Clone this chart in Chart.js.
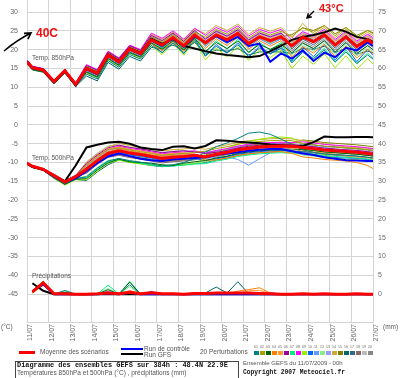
<!DOCTYPE html>
<html>
<head>
<meta charset="utf-8">
<script src="https://cdn.jsdelivr.net/npm/chart.js@4.4.0/dist/chart.umd.min.js"></script>
<style>
  body { margin: 0; background: #fff; }
  #wrap { position: relative; width: 400px; height: 378px; overflow: hidden; background: #fff; font-family: "Liberation Sans", Arial, sans-serif; }
  #chart { position: absolute; left: 0; top: -13px; }
  .t { position: absolute; white-space: nowrap; color: #555; font-size: 6.5px; line-height: 8px; }
  .mono { font-family: "Liberation Mono", "DejaVu Sans Mono", monospace; font-weight: bold; color: #111; }
  .hand { position: absolute; white-space: nowrap; color: #f01010; font-weight: bold; font-family: "Liberation Sans", Arial, sans-serif; }
  .sw { position: absolute; top: 351px; width: 5px; height: 4px; }
  .num { position: absolute; top: 345px; font-size: 3.5px; line-height: 4px; color: #666; }
</style>
</head>
<body>
<div id="wrap">
  <canvas id="chart" width="400" height="361"></canvas>

  <div class="t" style="left:32px; top:54px;">Temp. 850hPa</div>
  <div class="t" style="left:32px; top:154px;">Temp. 500hPa</div>
  <div class="t" style="left:32px; top:272px;">Précipitations</div>
  <div class="t" style="left:1px; top:323px;">(°C)</div>
  <div class="t" style="left:383px; top:323px;">(mm)</div>

  <div class="hand" style="left:36px; top:26px; font-size:12px;">40C</div>
  <div class="hand" style="left:319px; top:2px; font-size:11px;">43°C</div>
  <svg width="400" height="378" style="position:absolute; left:0; top:0;">
    <path d="M4 51 Q17 40 31 33 M24 33.4 L31 33 L27.9 39.2" stroke="#000" stroke-width="1.6" fill="none"/>
    <path d="M314 11 L307 18 M311.8 16.7 L307 18 L308.3 13.2" stroke="#000" stroke-width="1.4" fill="none"/>
  </svg>

  <div style="position:absolute; left:19px; top:351px; width:16px; height:3px; background:#ff0000;"></div>
  <div class="t" style="left:40px; top:348px;">Moyenne des scénarios</div>
  <div style="position:absolute; left:121px; top:348px; width:22px; height:2px; background:#0000ff;"></div>
  <div style="position:absolute; left:121px; top:353px; width:22px; height:2px; background:#000;"></div>
  <div class="t" style="left:144px; top:345px;">Run de contrôle</div>
  <div class="t" style="left:144px; top:351px;">Run GFS</div>
  <div class="t" style="left:200px; top:348px;">20 Perturbations</div>
  <div id="swatches"></div>

  <div style="position:absolute; left:15px; top:361px; width:222px; height:24px; border:1px solid #444;"></div>
  <div class="t mono" style="left:17px; top:361px; font-size:6.9px;">Diagramme des ensembles GEFS sur 384h : 48.4N 22.9E</div>
  <div class="t" style="left:17px; top:369px;">Températures 850hPa et 500hPa (°C) , précipitations (mm)</div>
  <div class="t" style="left:243px; top:359px; font-size:6px;">Ensemble GEFS du 11/07/2009 - 00h</div>
  <div class="t mono" style="left:243px; top:369px; font-size:6.3px;">Copyright 2007 Meteociel.fr</div>
</div>

<script>
// forecast hours (00h run of 11/07/2009)
const hours = [0, 6, 18, 30, 42, 54, 66, 78, 90, 102, 114, 126, 138, 150, 162, 174, 186,
  198, 210, 222, 234, 246, 258, 270, 282, 294, 306, 318, 330, 342, 354, 366, 378, 384];
const dayLabels = ['11/07', '12/07', '13/07', '14/07', '15/07', '16/07', '17/07', '18/07', '19/07',
  '20/07', '21/07', '22/07', '23/07', '24/07', '25/07', '26/07', '27/07'];
const yTicks = [-45, -40, -35, -30, -25, -20, -15, -10, -5, 0, 5, 10, 15, 20, 25, 30];
const y2Ticks = [0, 5, 10, 15, 20, 25, 30, 35, 40, 45, 50, 55, 60, 65, 70, 75];

const pertColors = ['#008080', '#a8a000', '#006600', '#ff8000', '#ff9933', '#990099', '#00ee88', '#ff00ff',
  '#99ee00', '#0066ff', '#6699ff', '#88ee88', '#9999ff', '#ccaa33', '#808000', '#006666',
  '#336688', '#886666', '#bbbbbb', '#888888'];

// Temp 850hPa (°C)
const mean850 = [16.8,15.2,14.6,11.5,14.4,10.8,15.0,13.7,18.6,16.8,20.2,19.0,22.6,21.2,23.2,21.0,23.9,21.8,23.9,22.6,24.3,21.6,23.4,22.4,23.4,21.0,23.3,22.1,23.9,21.2,23.4,20.8,22.6,21.7];
const control850 = [16.8,15.3,14.7,11.4,14.3,10.7,14.8,13.5,18.4,16.6,20.0,18.8,22.4,21.0,23.0,20.8,23.5,22.0,23.6,22.0,23.4,21.0,21.6,16.8,19.0,17.6,19.8,17.0,19.2,18.0,20.5,19.8,22.0,21.0];
const gfs850 = [16.9,15.1,14.5,11.3,14.2,10.5,15.1,13.8,18.8,17.0,20.4,19.2,22.9,21.5,22.8,21.0,20.3,19.6,19.0,18.6,18.3,18.0,18.3,19.6,21.0,22.6,23.4,23.9,24.6,25.6,24.8,23.4,22.8,22.1];
const pert850 = [
  [16.5,14.9,14.3,11.2,14.1,10.5,13.5,12.2,17.1,15.3,18.7,17.5,21.1,19.2,21.7,19.0,22.4,18.3,20.9,19.1,21.3,18.1,20.4,18.9,20.4,16.5,19.3,17.6,19.9,16.7,19.4,16.3,18.6,17.5],
  [17.0,15.4,14.8,11.7,14.6,11.0,15.5,14.2,19.1,17.3,20.7,19.5,23.4,22.0,24.0,21.8,24.7,23.3,25.4,24.1,25.8,23.1,24.9,23.9,24.9,23.5,25.8,24.6,26.4,23.7,25.9,23.3,25.1,24.2],
  [16.3,14.7,14.1,11.0,13.9,10.3,14.0,12.7,17.6,15.8,19.2,18.0,21.8,20.1,22.4,19.9,23.1,19.5,21.9,20.3,22.3,19.3,21.4,20.1,21.4,19.2,21.8,20.3,22.4,19.4,21.9,19.0,21.1,20.0],
  [16.9,15.3,14.7,11.6,14.5,10.9,14.5,13.2,18.1,16.3,19.7,18.5,21.6,19.7,22.2,19.5,22.9,20.3,22.9,21.1,23.3,20.1,22.4,20.9,22.4,18.0,20.8,19.1,21.4,18.2,20.9,17.8,20.1,19.0],
  [16.7,15.3,14.7,11.6,14.3,10.9,15.3,14.0,18.9,17.1,20.5,19.3,23.1,21.7,23.7,21.5,24.4,22.3,24.4,23.1,24.8,22.1,23.9,22.9,23.9,22.0,24.3,23.1,24.9,22.2,24.4,21.8,23.6,22.7],
  [17.1,15.5,14.9,11.8,14.7,11.1,15.8,14.5,19.4,17.6,21.0,19.8,23.8,22.4,24.4,22.2,25.1,22.8,24.9,23.6,25.3,22.6,24.4,23.4,24.4,21.0,23.3,22.1,23.9,21.2,23.4,20.8,22.6,21.7],
  [16.6,15.0,14.4,11.3,14.2,10.6,14.7,13.4,18.3,16.5,19.9,18.7,22.6,20.2,23.2,20.0,23.9,19.3,22.4,20.1,22.8,19.1,21.9,19.9,21.9,16.5,19.8,17.6,20.4,16.7,19.9,16.3,19.1,17.7],
  [17.2,15.6,15.0,11.9,14.8,11.2,16.0,14.7,19.6,17.8,21.2,20.0,24.4,23.0,25.0,22.8,25.7,23.8,25.9,24.6,26.3,23.6,25.4,24.4,25.4,22.5,24.8,23.6,25.4,22.7,24.9,22.3,24.1,23.2],
  [16.4,14.8,14.2,11.1,14.0,10.4,13.8,12.5,17.4,15.6,19.0,17.8,21.1,18.7,21.7,18.5,22.4,17.3,20.4,18.1,20.8,17.1,19.9,17.9,19.9,15.0,18.3,16.1,18.9,15.2,18.4,14.8,17.6,16.2],
  [16.8,15.1,14.5,11.4,14.4,10.7,14.2,12.9,17.8,16.0,19.4,18.2,21.6,19.2,22.2,19.0,22.9,18.3,21.4,19.1,21.8,18.1,20.9,18.9,20.9,17.0,20.8,18.1,21.4,17.2,20.9,16.8,20.1,18.5],
  [17.0,15.4,14.8,11.7,14.6,11.0,15.6,14.3,19.2,17.4,20.8,19.6,23.6,21.7,24.2,21.5,24.9,20.8,23.4,21.6,23.8,20.6,22.9,21.4,22.9,19.0,21.8,20.1,22.4,19.2,21.9,18.8,21.1,20.0],
  [16.6,15.0,14.4,11.3,14.2,10.6,14.5,13.2,18.1,16.3,19.7,18.5,22.1,20.2,22.7,20.0,23.4,21.0,23.6,21.8,24.0,20.8,23.1,21.6,23.1,18.5,21.3,19.6,21.9,18.7,21.4,18.3,20.6,19.5],
  [16.9,15.3,14.7,11.6,14.5,10.9,15.4,14.1,19.0,17.2,20.6,19.4,23.2,21.8,23.8,21.6,24.5,22.6,24.7,23.4,25.1,22.4,24.2,23.2,24.2,22.2,24.5,23.3,25.1,22.4,24.6,22.0,23.8,22.9],
  [16.9,15.1,14.6,11.4,14.5,10.8,15.8,14.5,19.4,17.6,21.0,19.8,24.1,22.7,24.7,22.5,25.4,24.3,26.4,25.1,26.8,24.1,25.9,24.9,25.9,23.0,27.0,24.1,25.9,23.2,25.4,22.8,24.6,23.7],
  [16.6,15.0,14.4,11.3,14.2,10.6,15.0,13.7,18.6,16.8,20.2,19.0,22.9,21.5,23.5,21.3,24.2,21.8,23.9,22.6,24.3,21.6,23.4,22.4,23.4,24.0,25.8,25.1,26.4,24.2,25.9,23.8,25.1,24.5],
  [16.2,14.6,14.0,10.9,13.8,10.2,13.0,11.7,16.6,14.8,18.2,17.0,20.6,20.2,21.2,20.0,21.9,18.8,19.9,19.6,20.3,18.6,19.4,19.4,19.4,19.0,20.3,20.1,20.9,19.2,20.4,18.8,19.6,19.2],
  [17.1,15.5,14.9,11.8,14.7,11.1,15.0,13.7,18.6,16.8,20.2,19.0,22.3,20.6,22.9,20.4,23.6,22.0,24.4,22.8,24.8,21.8,23.9,22.6,23.9,20.2,22.8,21.3,23.4,20.4,22.9,20.0,22.1,21.1],
  [16.7,15.1,14.5,11.4,14.3,10.7,15.3,14.0,18.9,17.1,20.5,19.3,22.8,21.4,23.4,21.2,24.1,21.3,23.4,22.1,23.8,21.1,22.9,21.9,22.9,21.5,23.8,22.6,24.4,21.7,23.9,21.3,23.1,22.2],
  [16.9,15.3,14.7,11.6,14.5,10.9,15.5,14.2,19.1,17.3,20.7,19.5,23.6,22.2,24.2,22.0,24.9,23.0,25.1,23.8,25.5,22.8,24.6,23.6,24.6,21.8,24.1,22.9,24.7,22.0,24.2,21.6,23.4,22.5],
  [16.5,14.9,14.3,11.2,14.1,10.5,14.7,13.4,18.3,16.5,19.9,18.7,22.1,20.4,22.7,20.2,23.4,21.0,23.4,21.8,23.8,20.8,22.9,21.6,22.9,19.7,22.3,20.8,22.9,19.9,22.4,19.5,21.6,20.6]
];

// Temp 500hPa (°C)
const mean500 = [-10.2,-11.0,-11.8,-13.5,-15.2,-13.8,-11.8,-9.5,-7.6,-6.9,-7.5,-7.9,-8.4,-8.9,-8.6,-8.4,-8.1,-8.5,-7.8,-7.3,-6.6,-6.2,-5.9,-5.7,-5.6,-5.7,-6.0,-6.3,-6.7,-6.9,-7.1,-7.3,-7.6,-7.8];
const control500 = [-10.2,-11.1,-11.9,-13.7,-15.3,-14.2,-12.3,-10.2,-8.4,-7.6,-8.3,-9.0,-9.4,-9.6,-9.2,-9.0,-8.8,-8.6,-8.0,-7.6,-7.3,-6.9,-6.6,-6.4,-6.4,-7.0,-7.6,-8.0,-8.6,-9.0,-9.4,-9.5,-9.6,-9.6];
const gfs500 = [-10.2,-11.2,-11.9,-13.6,-15.0,-10.8,-6.0,-5.3,-4.7,-4.5,-5.0,-6.0,-6.4,-6.7,-5.8,-5.7,-6.3,-5.6,-4.1,-4.2,-4.5,-4.7,-4.9,-5.2,-5.4,-5.6,-5.6,-4.6,-3.1,-3.3,-3.3,-3.2,-3.2,-3.3];
const pert500 = [
  [-10.4,-11.2,-12.0,-14.0,-15.7,-14.3,-13.8,-11.5,-9.6,-8.9,-9.5,-9.9,-10.4,-10.9,-10.6,-10.0,-9.0,-7.2,-5.8,-4.8,-3.6,-2.2,-1.9,-2.5,-3.8,-5.2,-6.6,-7.3,-7.7,-7.9,-8.1,-8.3,-8.6,-8.8],
  [-10.1,-10.9,-11.7,-13.3,-15.0,-13.6,-10.8,-8.5,-6.6,-6.1,-6.7,-7.1,-7.6,-8.1,-7.8,-7.6,-7.3,-7.0,-6.3,-5.8,-5.1,-4.7,-4.4,-4.2,-4.1,-4.2,-5.0,-5.3,-5.7,-5.9,-6.1,-6.3,-6.6,-6.8],
  [-10.5,-11.3,-12.1,-14.1,-15.8,-14.4,-14.3,-12.0,-10.1,-9.1,-9.8,-10.0,-10.2,-10.6,-10.8,-10.2,-9.8,-9.5,-8.8,-8.3,-7.6,-7.2,-6.9,-6.7,-6.6,-6.7,-6.5,-6.8,-7.2,-7.4,-7.6,-7.8,-8.1,-8.3],
  [-10.0,-10.8,-11.6,-13.2,-14.9,-13.5,-11.3,-9.0,-7.1,-6.4,-7.0,-7.4,-7.9,-8.4,-8.1,-7.9,-8.4,-9.4,-9.3,-8.8,-8.1,-7.7,-7.4,-7.2,-7.1,-7.6,-8.5,-8.8,-9.2,-9.4,-9.6,-10.0,-10.8,-11.6],
  [-10.2,-11.0,-11.8,-13.4,-15.1,-13.7,-10.6,-8.3,-6.4,-5.9,-6.5,-6.9,-7.4,-7.9,-7.6,-7.4,-7.8,-8.6,-8.3,-7.8,-7.1,-6.7,-6.4,-6.2,-6.1,-6.2,-6.8,-7.2,-7.5,-7.8,-8.2,-8.5,-8.7,-9.0],
  [-10.0,-10.8,-11.6,-13.1,-14.8,-13.4,-10.3,-8.0,-6.1,-5.4,-6.0,-6.4,-6.9,-7.4,-7.1,-6.9,-7.2,-7.6,-7.3,-6.8,-6.1,-5.7,-5.4,-5.2,-5.1,-5.2,-5.5,-5.8,-6.2,-6.4,-6.6,-6.8,-7.1,-7.3],
  [-10.3,-11.1,-11.9,-13.9,-15.6,-14.2,-14.0,-11.7,-9.8,-9.2,-9.8,-10.2,-10.7,-11.0,-10.9,-10.7,-10.4,-10.3,-9.6,-9.1,-8.4,-8.0,-7.7,-7.5,-7.4,-7.5,-7.5,-7.8,-8.2,-8.4,-8.6,-8.8,-9.1,-9.3],
  [-10.1,-10.9,-11.7,-13.2,-14.9,-13.5,-10.6,-8.2,-6.5,-5.7,-6.3,-6.7,-7.2,-7.7,-7.4,-7.2,-6.9,-7.5,-6.8,-6.3,-5.6,-5.2,-4.9,-4.7,-4.6,-4.7,-4.5,-4.8,-5.2,-5.4,-5.6,-5.8,-6.1,-6.3],
  [-10.4,-11.2,-12.0,-14.2,-16.0,-14.6,-14.6,-12.3,-10.2,-9.4,-10.0,-10.4,-10.7,-10.9,-10.8,-10.6,-10.3,-8.8,-7.6,-6.3,-5.2,-4.4,-3.8,-3.4,-3.2,-3.5,-5.0,-6.5,-8.0,-8.9,-9.2,-9.3,-9.6,-9.8],
  [-10.2,-11.0,-11.8,-13.7,-15.4,-14.0,-12.3,-10.0,-8.1,-7.4,-8.0,-8.4,-8.9,-9.4,-9.1,-8.9,-9.0,-9.4,-9.0,-8.5,-7.8,-7.4,-7.1,-6.9,-6.8,-6.9,-7.3,-7.9,-8.4,-8.7,-8.8,-8.9,-9.2,-9.5],
  [-10.1,-10.9,-11.7,-13.3,-15.0,-13.6,-11.5,-9.2,-7.3,-6.6,-7.2,-7.6,-8.1,-8.6,-8.3,-8.1,-7.8,-9.0,-8.6,-8.5,-9.2,-10.7,-9.0,-7.4,-6.3,-5.8,-5.3,-5.7,-6.0,-6.5,-6.9,-7.0,-7.2,-7.5],
  [-10.4,-11.2,-12.0,-13.9,-15.6,-14.2,-13.6,-11.3,-9.4,-9.1,-9.7,-10.1,-10.6,-10.9,-10.7,-10.5,-10.2,-9.8,-9.2,-8.5,-7.9,-7.0,-6.5,-6.6,-7.0,-7.3,-8.0,-8.3,-8.7,-8.9,-9.1,-9.3,-9.6,-9.8],
  [-10.0,-10.8,-11.6,-13.2,-14.9,-13.5,-11.0,-8.7,-6.8,-6.2,-6.9,-7.5,-8.0,-8.2,-7.9,-7.6,-7.4,-7.2,-6.9,-6.5,-5.9,-5.0,-4.8,-4.9,-5.0,-5.2,-6.0,-6.3,-6.7,-6.9,-7.1,-7.3,-7.6,-7.8],
  [-10.1,-11.1,-11.8,-13.3,-15.0,-13.6,-10.0,-7.7,-5.8,-4.9,-5.5,-5.9,-6.4,-6.9,-6.6,-6.4,-6.1,-6.5,-5.8,-5.3,-4.6,-4.2,-3.9,-3.7,-3.6,-3.7,-4.2,-4.6,-5.0,-5.5,-5.9,-6.0,-6.2,-6.5],
  [-10.3,-11.1,-11.9,-13.5,-15.2,-13.8,-12.1,-9.8,-7.9,-7.7,-8.3,-8.7,-9.2,-9.7,-9.4,-9.2,-8.4,-8.0,-7.0,-6.5,-5.8,-5.4,-5.1,-4.9,-4.8,-4.9,-4.0,-4.3,-4.7,-4.9,-5.1,-5.3,-5.6,-5.8],
  [-10.5,-11.3,-12.1,-14.2,-15.9,-14.5,-14.8,-12.5,-10.6,-9.3,-9.9,-10.3,-10.8,-11.1,-10.9,-10.6,-10.3,-10.0,-9.3,-8.8,-8.1,-7.7,-7.4,-7.2,-7.1,-7.2,-7.0,-7.3,-7.7,-7.9,-8.1,-8.3,-8.6,-8.8],
  [-10.1,-10.9,-11.7,-13.4,-15.1,-13.7,-11.3,-9.0,-7.1,-7.2,-7.8,-8.2,-8.7,-9.2,-8.9,-8.7,-8.4,-8.8,-8.4,-7.9,-7.3,-6.6,-6.1,-5.9,-6.0,-6.4,-5.0,-5.3,-5.7,-5.9,-6.1,-6.3,-6.6,-6.8],
  [-10.3,-11.1,-11.9,-13.6,-15.3,-13.9,-12.8,-10.5,-8.6,-8.1,-8.7,-9.1,-9.6,-10.1,-9.8,-9.6,-9.3,-8.2,-7.5,-7.0,-6.3,-5.9,-5.6,-5.4,-5.3,-5.4,-6.5,-6.8,-7.2,-7.4,-7.6,-7.8,-8.1,-8.3],
  [-10.1,-10.9,-11.7,-13.2,-14.9,-13.5,-9.8,-7.5,-5.6,-5.3,-5.9,-6.3,-6.8,-7.3,-7.0,-6.8,-7.0,-7.5,-7.1,-6.6,-5.9,-5.5,-5.2,-5.0,-4.9,-5.0,-5.2,-5.4,-5.6,-5.8,-6.2,-6.5,-6.8,-7.0],
  [-10.2,-11.0,-11.8,-13.6,-15.3,-13.9,-12.6,-10.3,-8.4,-7.9,-8.5,-8.9,-9.4,-9.9,-9.6,-9.4,-9.1,-8.8,-8.1,-7.6,-6.9,-6.5,-6.2,-6.0,-5.9,-6.0,-7.2,-7.5,-7.9,-8.1,-8.3,-8.5,-8.8,-9.0]
];

// Precipitations (mm), first value at 6h
const meanPrecip = [null,0.6,3.0,0.1,0.1,0,0,0.1,0.3,0.1,0.5,0.1,0.4,0.1,0.1,0,0.2,0.2,0.3,0.3,0.3,0.3,0.2,0.1,0,0,0.1,0,0.1,0,0,0.1,0,0];
const controlPrecip = [null,0.8,2.6,0,0,0,0,0,0.2,0,0.4,0,0,0,0,0,0,0,0,0,0,0,0,0,0,0,0,0,0,0,0,0,0,0];
const gfsPrecip = [null,2.9,0.9,0,0,0,0,0,0,0,0,0,0,0,0,0,0,0,0,0,0,0,0,0,0,0,0,0,0,0,0,0,0,0];
const pertPrecip = [
  [null,0.6,2.8,0,1.0,0,0,0,0,0, 2.5,0,0,0,0,0,0,0,0,0, 0,0,0,0,0,0,0,0,0,0, 0,0,0,0],
  [null,0.5,2.5,0,0,0,0,0,0,0, 0,0,0,0,0,0,0,0,0,0, 0,0,0,0,0,0,0,0,0,0, 0,0,0,0],
  [null,0.9,3.3,0,0.5,0,0,0,1.2,0, 3.2,0,0,0,0,0,0,0,0,0, 0,0,0,0,0,0,0,0,0,0, 0,0,0,0],
  [null,0.4,2.7,0,0,0,0,0,0,0, 0,0,0,0,0,0,0,0,0,0, 0.8,1.2,1.7,0.3,0,0,0,0,0,0, 0,0,0,0],
  [null,0.5,2.6,0,0,0,0,0,0,0, 1.0,0,0,0,0,0,0,0,0,0, 0,0.9,1.0,0.2,0,0,0,0,0,0, 0,0,0,0],
  [null,0.6,3.0,0,0,0,0,0,0,0, 0.8,0,0.6,0,0,0,0,0,0,0, 0,0,0,0,0,0,0,0,0,0, 0,0,0,0],
  [null,1.0,3.4,0,0,0,0,0,2.4,0, 3.4,0,0,0,0,0,0,0.4,0,0, 0,0,0,0,0,0,0,0,0,0, 0,0,0,0],
  [null,0.7,3.1,0,0,0,0,0,0.6,0, 0,0,0,0,0,0,0,0,0,0, 0,0,0,0,0,0,0,0,0,0, 0,0,0,0],
  [null,0.4,2.4,0,0,0,0,0,0,0, 0,0,0,0,0,0,0,0,0,0, 0,0,0,0,0,0,0,0,0,0, 0,0,0,0],
  [null,0.6,2.9,0,0,0,0,0,0,0, 0.5,0,0,0,0,0,0,0,0,0, 0,0,0,0.3,0,0,0,0,0,0, 0,0,0,0],
  [null,0.5,2.8,0,0,0,0,0,0,0, 0,0,0,0,0,0,0,0,0,0, 0,0,0,0,0,0,0,0,0,0, 0,0,0,0],
  [null,0.8,3.2,0,0.8,0,0,0,1.5,0, 2.0,0,0,0,0,0,0,0,0,0, 0,0,0,0,0,0,0,0,0,0, 0,0,0,0],
  [null,0.6,2.9,0,0,0,0,0,0.8,0, 0,0,0.8,0,0,0,0,0,0,0, 0,0,0,0.5,0,0,0,0,0,0, 0,0,0,0],
  [null,0.3,2.3,0,0,0,0,0,0,0, 0,0,0,0,0,0,0,0,0,0, 0,0,0,0,0,0,0,0,0,0, 0,0,0,0],
  [null,0.5,2.6,0,0,0,0,0,0,0, 0,0,0,0,0,0,0,0,0,0, 0,0,0,0,0,0,0,0,0,0, 0,0,0,0],
  [null,0.7,3.0,0,0,0,0,0,0,0, 0,0,0,0,0,0,0,0.3,1.9,0.3, 3.3,0.1,0,0,0,0,0,0,0,0, 0,0,0,0],
  [null,0.6,2.8,0,0,0,0,0,0,0, 0,0,0,0,0,0,0.4,0,0,0, 0,0,0,0,0,0,0,0,0,0, 0,0,0,0],
  [null,0.5,2.7,0,0,0,0,0,0,0, 0,0,0,0,0,0,0,0,0,0, 0,0,0,0,0,0,0,0,0,0, 0,0,0,0],
  [null,0.4,2.5,0,0,0,0,0,0,0, 0,0,0.5,0,0,0,0,0,0,0, 0,0,0,0,0,0,0,0,0,0, 0,0,0,0],
  [null,0.6,2.9,0,0,0,0,0,0,0, 0,0,0,0,0,0,0.3,0,0,0, 0,0,0,0,0,0,0,0,0,0, 0,0,0,0]
];

// legend swatches
const sw = document.getElementById('swatches');
pertColors.forEach((c, i) => {
  const d = document.createElement('div');
  d.className = 'sw';
  d.style.left = (254 + i * 6) + 'px';
  d.style.background = c;
  sw.appendChild(d);
  const n = document.createElement('div');
  n.className = 'num';
  n.style.left = (254 + i * 6) + 'px';
  n.textContent = String(i + 1).padStart(2, '0');
  sw.appendChild(n);
});

function pts(vals) {
  return hours.map((h, i) => ({ x: h, y: vals[i] }));
}

const datasets = [];
function addPanel(pert, control, gfs, mean, axis) {
  pert.forEach((vals, k) => {
    datasets.push({ data: pts(vals), borderColor: pertColors[k], borderWidth: 1, yAxisID: axis, order: 3 });
  });
  datasets.push({ data: pts(gfs), borderColor: '#000000', borderWidth: 2, yAxisID: axis, order: 2 });
  datasets.push({ data: pts(control), borderColor: '#0000ff', borderWidth: 2, yAxisID: axis, order: 1 });
  datasets.push({ data: pts(mean), borderColor: '#ff0000', borderWidth: 3, yAxisID: axis, order: 0 });
}
addPanel(pert850, control850, gfs850, mean850, 'y');
addPanel(pert500, control500, gfs500, mean500, 'y');
addPanel(pertPrecip, controlPrecip, gfsPrecip, meanPrecip, 'y2');

const tickFont = { family: 'Liberation Sans', size: 7, lineHeight: '8px' };
const gridColor = '#d4d4d4';

// the y tick padding adds space above the plot: move the canvas up by that much
const shiftUp = {
  id: 'shiftUp',
  afterLayout(chart) {
    chart.canvas.style.top = (-Math.round(chart.chartArea.top)) + 'px';
  }
};

new Chart(document.getElementById('chart').getContext('2d'), {
  type: 'line',
  data: { datasets: datasets },
  plugins: [shiftUp],
  options: {
    responsive: false,
    animation: false,
    devicePixelRatio: 1,
    layout: { padding: 0 },
    elements: { point: { radius: 0 }, line: { tension: 0, fill: false } },
    plugins: { legend: { display: false }, tooltip: { enabled: false } },
    scales: {
      x: {
        type: 'linear', min: 0, max: 384,
        afterBuildTicks: s => { s.ticks = dayLabels.map((d, i) => ({ value: i * 24 })); },
        afterFit: s => { s.height = 26; },
        ticks: {
          autoSkip: false, maxRotation: 90, minRotation: 90, padding: 2, labelOffset: 3,
          font: tickFont, color: '#666',
          callback: v => dayLabels[Math.round(v / 24)]
        },
        grid: { color: gridColor, drawTicks: false },
        border: { color: gridColor }
      },
      y: {
        position: 'left', min: -52.4, max: 33.2,
        afterBuildTicks: s => { s.ticks = yTicks.map(v => ({ value: v })); },
        afterFit: s => { s.width = 27; },
        ticks: { padding: 9, font: tickFont, color: '#666', callback: v => String(v) },
        grid: { color: gridColor, drawTicks: false },
        border: { color: gridColor }
      },
      y2: {
        position: 'right', min: -7.4, max: 78.2,
        afterBuildTicks: s => { s.ticks = y2Ticks.map(v => ({ value: v })); },
        afterFit: s => { s.width = 27; },
        ticks: { padding: 5, font: tickFont, color: '#666', callback: v => String(v) },
        grid: { drawOnChartArea: false, drawTicks: false },
        border: { color: gridColor }
      }
    }
  }
});
</script>
</body>
</html>
